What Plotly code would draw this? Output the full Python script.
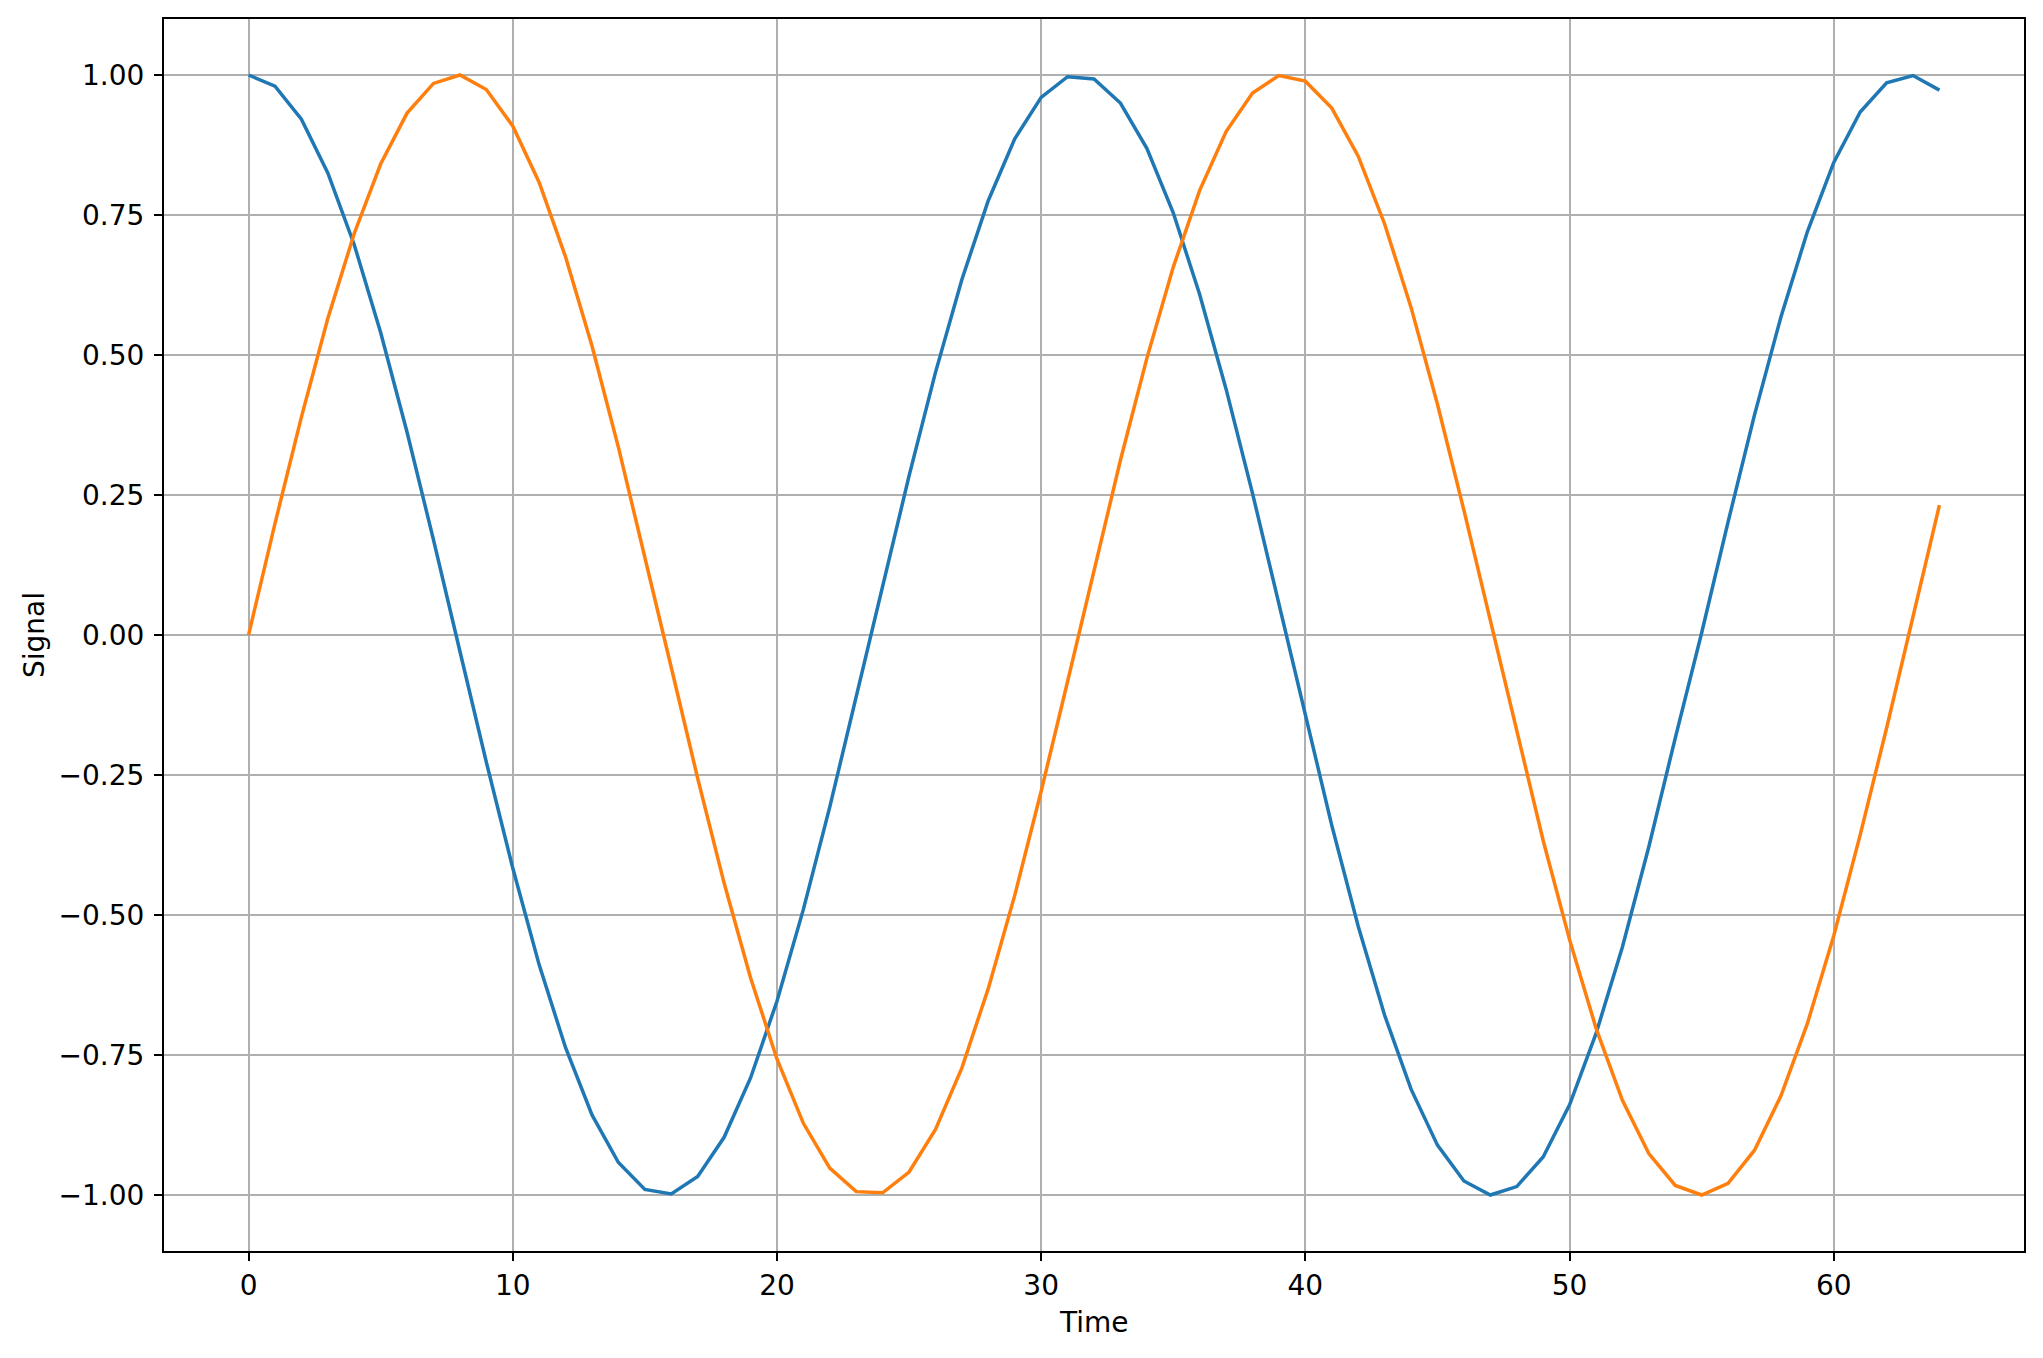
import plotly.graph_objects as go

time = list(range(65))
signal_cos = [1.000, 0.980, 0.921, 0.825, 0.697, 0.540, 0.362, 0.170, -0.029, -0.227,
              -0.416, -0.589, -0.737, -0.857, -0.942, -0.990, -0.998, -0.967, -0.897, -0.791,
              -0.654, -0.490, -0.307, -0.112, 0.087, 0.284, 0.469, 0.635, 0.776, 0.886,
              0.960, 0.997, 0.993, 0.950, 0.869, 0.754, 0.608, 0.439, 0.253, 0.054,
              -0.146, -0.340, -0.520, -0.679, -0.811, -0.911, -0.975, -1.000, -0.985, -0.932,
              -0.839, -0.712, -0.557, -0.378, -0.184, 0.004, 0.202, 0.393, 0.568, 0.720,
              0.844, 0.934, 0.986, 0.999, 0.973]
signal_sin = [0.000, 0.199, 0.389, 0.565, 0.717, 0.841, 0.932, 0.985, 1.000, 0.974,
              0.909, 0.808, 0.675, 0.516, 0.335, 0.141, -0.058, -0.256, -0.443, -0.612,
              -0.757, -0.872, -0.952, -0.994, -0.996, -0.959, -0.883, -0.773, -0.631, -0.465,
              -0.279, -0.083, 0.117, 0.312, 0.494, 0.657, 0.794, 0.899, 0.968, 0.999,
              0.989, 0.941, 0.855, 0.734, 0.585, 0.412, 0.223, 0.025, -0.175, -0.367,
              -0.544, -0.702, -0.831, -0.926, -0.983, -1.000, -0.979, -0.920, -0.823, -0.694,
              -0.537, -0.357, -0.166, 0.034, 0.232]
x_ticks = [0, 10, 20, 30, 40, 50, 60]
y_ticks = [-1.0, -0.75, -0.5, -0.25, 0.0, 0.25, 0.5, 0.75, 1.0]

FONT = "DejaVu Sans"
FS = 28

fig = go.Figure()
fig.add_trace(go.Scatter(x=time, y=signal_cos, mode="lines",
                         line=dict(color="#1f77b4", width=3.5), showlegend=False))
fig.add_trace(go.Scatter(x=time, y=signal_sin, mode="lines",
                         line=dict(color="#ff7f0e", width=3.5), showlegend=False))

axis_common = dict(
    showline=True, mirror=True, linecolor="black", linewidth=2,
    showgrid=True, gridcolor="#b0b0b0", gridwidth=1.9,
    zeroline=False, ticks="outside", ticklen=8, tickwidth=2, tickcolor="black",
    tickfont=dict(family=FONT, size=FS, color="black"),
    automargin=False,
)

# page body has an 8px margin: figure is placed at (8, 8) in the window
fig.update_layout(
    width=2035, height=1350,
    margin=dict(l=156, r=19, t=11, b=107),
    paper_bgcolor="white", plot_bgcolor="white",
    font=dict(family=FONT, color="black"),
    xaxis=dict(range=[-3.2, 67.2], tickvals=x_ticks, **axis_common),
    yaxis=dict(range=[-1.1, 1.1], tickvals=y_ticks, tickformat=".2f",
               ticklabelstandoff=4, **axis_common),
    annotations=[
        dict(text="Time", xref="paper", yref="paper", x=0.5, y=0,
             xanchor="center", yanchor="middle", yshift=-71, showarrow=False,
             font=dict(family=FONT, size=FS, color="black")),
        dict(text="Signal", xref="paper", yref="paper", x=0, y=0.5,
             xanchor="center", yanchor="middle", xshift=-130, textangle=-90,
             showarrow=False, font=dict(family=FONT, size=FS, color="black")),
    ],
)

fig.write_html("out.html")
